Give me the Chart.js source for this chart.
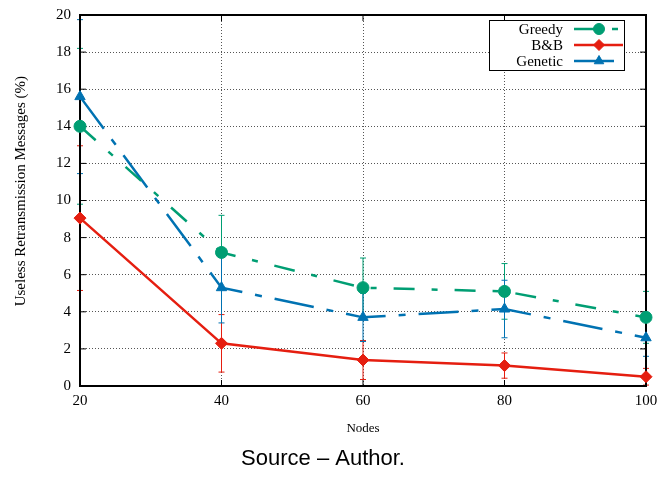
<!DOCTYPE html>
<html>
<head>
<meta charset="utf-8">
<script src="https://cdn.jsdelivr.net/npm/chart.js@4/dist/chart.umd.min.js"></script>
<style>
  html, body { margin: 0; padding: 0; background: #fff; }
  #wrap { width: 661px; height: 477px; }
</style>
</head>
<body>
<div id="wrap"><canvas id="chart" width="661" height="477"></canvas></div>
<script>
const nodes = [20, 40, 60, 80, 100];

const greedy = [14.0, 7.2, 5.3, 5.1, 3.7];
const bnb = [9.05, 2.3, 1.4, 1.1, 0.5];
const genetic = [15.6, 5.3, 3.7, 4.15, 2.6];

// half-length of the error bars
const greedy_err = [4.2, 2.0, 1.6, 1.5, 1.4];
const bnb_err = [3.9, 1.55, 1.05, 0.68, 0.45];
const genetic_err = [4.15, 1.9, 1.3, 1.55, 1.0];

const y_ticks = [0, 2, 4, 6, 8, 10, 12, 14, 16, 18, 20];

const GREEN = "#009e73";
const RED = "#e51e10";
const BLUE = "#0072b2";
const SERIF = "'Liberation Serif', 'DejaVu Serif', serif";

const series = [
  { label: "Greedy", data: greedy, err: greedy_err, color: GREEN, style: "circle", dash: [21, 17, 6, 17] },
  { label: "B&B", data: bnb, err: bnb_err, color: RED, style: "rectRot", dash: [] },
  { label: "Genetic", data: genetic, err: genetic_err, color: BLUE, style: "triangle", dash: [40, 13, 7, 13] },
];

// error bars + frame, drawn under the lines
const errorBars = {
  id: "errorBars",
  beforeDatasetsDraw(chart) {
    const ctx = chart.ctx;
    const xs = chart.scales.x, ys = chart.scales.y;
    const a = chart.chartArea;
    ctx.save();
    ctx.lineWidth = 1;
    series.forEach((s) => {
      ctx.strokeStyle = s.color;
      s.data.forEach((v, i) => {
        const x = xs.getPixelForValue(nodes[i]);
        const y1 = ys.getPixelForValue(v + s.err[i]);
        const y2 = ys.getPixelForValue(v - s.err[i]);
        ctx.beginPath();
        ctx.moveTo(x, y1); ctx.lineTo(x, y2);
        ctx.moveTo(x - 3, y1); ctx.lineTo(x + 3, y1);
        ctx.moveTo(x - 3, y2); ctx.lineTo(x + 3, y2);
        ctx.stroke();
      });
    });

    // inward tick marks
    ctx.strokeStyle = "#000";
    ctx.lineWidth = 1;
    ctx.beginPath();
    y_ticks.forEach((t) => {
      const y = ys.getPixelForValue(t);
      ctx.moveTo(a.left, y); ctx.lineTo(a.left + 6, y);
      ctx.moveTo(a.right, y); ctx.lineTo(a.right - 6, y);
    });
    nodes.forEach((n) => {
      const x = xs.getPixelForValue(n);
      ctx.moveTo(x, a.bottom); ctx.lineTo(x, a.bottom - 6);
      ctx.moveTo(x, a.top); ctx.lineTo(x, a.top + 6);
    });
    ctx.stroke();

    ctx.lineWidth = 2;
    ctx.strokeRect(a.left, a.top, a.right - a.left, a.bottom - a.top);
    ctx.restore();
  },
};

// gnuplot style key: text on the left, sample on the right
const keyBox = {
  id: "keyBox",
  afterDraw(chart) {
    const ctx = chart.ctx;
    const bx = 489, by = 20, bw = 135, bh = 50;
    ctx.save();
    ctx.fillStyle = "#fff";
    ctx.fillRect(bx, by, bw, bh);
    ctx.strokeStyle = "#000";
    ctx.lineWidth = 1;
    ctx.strokeRect(bx + 0.5, by + 0.5, bw, bh);
    ctx.font = "15px " + SERIF;
    ctx.textAlign = "right";
    ctx.textBaseline = "middle";
    series.forEach((s, i) => {
      const y = 29 + i * 16;
      ctx.fillStyle = "#000";
      ctx.fillText(s.label, 563, y + 1);
      ctx.strokeStyle = s.color;
      ctx.fillStyle = s.color;
      ctx.lineWidth = 2.5;
      ctx.setLineDash(s.dash);
      ctx.beginPath();
      ctx.moveTo(574, y); ctx.lineTo(623, y);
      ctx.stroke();
      ctx.setLineDash([]);
      ctx.lineWidth = 1;
      Chart.helpers.drawPoint(ctx, { pointStyle: s.style, radius: 5.5, borderWidth: 1, rotation: 0 }, 599, y);
    });
    ctx.restore();
  },
};

new Chart(document.getElementById("chart"), {
  type: "line",
  data: {
    datasets: series.map((s) => ({
      label: s.label,
      data: nodes.map((n, i) => ({ x: n, y: s.data[i] })),
      borderColor: s.color,
      backgroundColor: s.color,
      borderWidth: 2.5,
      borderDash: s.dash,
      pointStyle: s.style,
      pointRadius: 6,
      pointBorderWidth: 1,
      pointBackgroundColor: s.color,
      pointBorderColor: s.color,
      tension: 0,
      clip: false,
    })),
  },
  options: {
    responsive: false,
    animation: false,
    layout: { autoPadding: false, padding: { left: 0, right: 15, top: 15, bottom: 0 } },
    scales: {
      x: {
        type: "linear",
        min: 20,
        max: 100,
        afterBuildTicks: (scale) => { scale.ticks = nodes.map((v) => ({ value: v })); },
        afterFit: (scale) => {
          scale.height = 60;
          scale.paddingLeft = 0;
          scale.paddingRight = 0;
        },
        border: { display: false, dash: [1, 2] },
        grid: { color: "#555", lineWidth: 1, drawTicks: false },
        ticks: { color: "#000", padding: 6, font: { family: SERIF, size: 15 } },
        title: {
          display: true,
          text: "Nodes",
          color: "#000",
          font: { family: SERIF, size: 13 },
          padding: { top: 0, bottom: 10 },
        },
      },
      y: {
        min: 0,
        max: 20,
        afterBuildTicks: (scale) => { scale.ticks = y_ticks.map((v) => ({ value: v })); },
        afterFit: (scale) => {
          scale.width = 80;
          scale.paddingTop = 0;
          scale.paddingBottom = 0;
        },
        border: { display: false, dash: [1, 2] },
        grid: { color: "#555", lineWidth: 1, drawTicks: false },
        ticks: { color: "#000", padding: 9, font: { family: SERIF, size: 15 } },
        title: {
          display: true,
          text: "     Useless Retransmission Messages (%)",
          color: "#000",
          font: { family: SERIF, size: 15 },
          padding: { top: 12, bottom: 0 },
        },
      },
    },
    plugins: {
      legend: { display: false },
      tooltip: { enabled: false },
      title: {
        display: true,
        position: "bottom",
        text: "Source \u2013 Author.",
        color: "#000",
        font: { family: "'Liberation Sans', Arial, sans-serif", size: 22, weight: "normal" },
        padding: { top: 0, bottom: 4.6 },
      },
    },
  },
  plugins: [errorBars, keyBox],
});
</script>
</body>
</html>
